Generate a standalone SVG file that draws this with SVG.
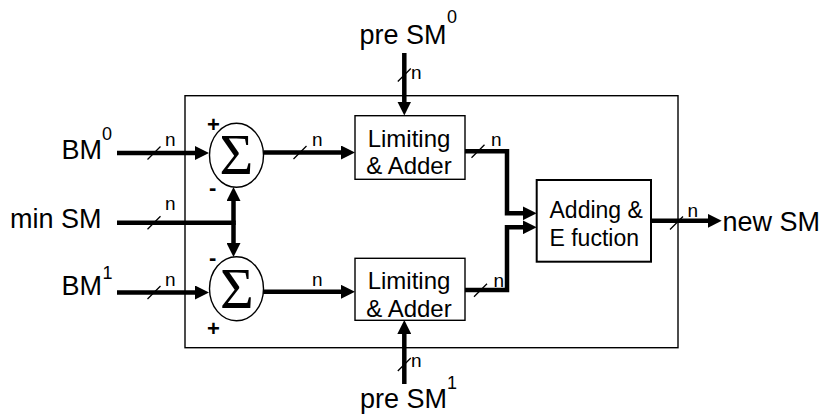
<svg xmlns="http://www.w3.org/2000/svg" width="826" height="416" viewBox="0 0 826 416">
<style>
  .lbl{font-family:"Liberation Sans",Arial,sans-serif;fill:#000}
  .big{font-size:27px}
  .sup{font-size:18px}
  .box{font-size:24px}
  .n{font-size:19px}
  .sign{font-size:22px;font-weight:bold}
  .sigma{font-family:"Liberation Serif","Times New Roman",serif;font-size:58px;fill:#000}
  .bus{fill:none;stroke:#000;stroke-width:4.5;stroke-linejoin:miter}
  .arr{marker-end:url(#ah)}
  .tick{stroke:#000;stroke-width:1.3;fill:none}
  .shape{fill:#fff;stroke:#000;stroke-width:1.4}
</style>
<defs>
  <marker id="ah" markerUnits="userSpaceOnUse" markerWidth="14" markerHeight="14" refX="6" refY="7" orient="auto">
    <path d="M0,0 L14,7 L0,14 z" fill="#000"/>
  </marker>
</defs>
<rect width="826" height="416" fill="#fff"/>

<g id="frame">
  <rect x="185" y="95.7" width="493" height="252" fill="none" stroke="#000" stroke-width="1.4"/>
</g>

<g id="connectors">
  <path class="bus arr" d="M117,153 H201"/>
  <path class="bus" d="M117,222.7 H235.7"/>
  <path class="bus arr" d="M233.5,222.7 V195"/>
  <path class="bus arr" d="M233.5,222.7 V249"/>
  <path class="bus arr" d="M117,292.5 H201"/>
  <path class="bus arr" d="M263.5,152.5 H347"/>
  <path class="bus arr" d="M263,291.8 H347"/>
  <path class="bus arr" d="M404.3,53 V107.5"/>
  <path class="bus arr" d="M404.3,384 V328"/>
  <path class="bus arr" d="M465,151.3 H507 V213.3 H528.7"/>
  <path class="bus arr" d="M465,290 H507 V227.3 H528.7"/>
  <path class="bus arr" d="M651,220.8 H713.7"/>
  <path class="tick" d="M147.5,159.5 L160.5,146.5 M147.5,229.2 L160.5,216.2 M147.5,299 L160.5,286 M293.5,159 L306.5,146 M471.5,157.8 L484.5,144.8 M474,296.7 L487,283.7 M670,229.5 L683,216.5 M397.8,81.5 L410.8,68.5 M397.8,371 L410.8,358"/>
  <text class="lbl n" x="165" y="146">n</text>
  <text class="lbl n" x="165" y="210">n</text>
  <text class="lbl n" x="165" y="286">n</text>
  <text class="lbl n" x="312" y="146">n</text>
  <text class="lbl n" x="312" y="285.5">n</text>
  <text class="lbl n" x="491" y="145.5">n</text>
  <text class="lbl n" x="493.5" y="287">n</text>
  <text class="lbl n" x="687.5" y="216.5">n</text>
  <text class="lbl n" x="411" y="79">n</text>
  <text class="lbl n" x="411" y="366.5">n</text>
</g>

<g id="label-bm0">
  <text class="lbl big" x="61.5" y="159">BM</text>
  <text class="lbl sup" x="102" y="140">0</text>
</g>
<g id="label-minsm">
  <text class="lbl big" x="10" y="227.5">min SM</text>
</g>
<g id="label-bm1">
  <text class="lbl big" x="61.5" y="295">BM</text>
  <text class="lbl sup" x="102.5" y="279">1</text>
</g>
<g id="label-presm0">
  <text class="lbl big" x="359.5" y="43.5">pre SM</text>
  <text class="lbl sup" x="447" y="22.7">0</text>
</g>
<g id="label-presm1">
  <text class="lbl big" x="360" y="408.3">pre SM</text>
  <text class="lbl sup" x="447" y="388.5">1</text>
</g>
<g id="label-newsm">
  <text class="lbl big" x="722.5" y="230.7">new SM</text>
</g>

<g id="sum0">
  <ellipse class="shape" cx="236.5" cy="155.3" rx="27" ry="32"/>
  <text class="sigma" x="236.5" y="173.5" text-anchor="middle">Σ</text>
  <text class="lbl sign" x="213.5" y="132" text-anchor="middle">+</text>
  <text class="lbl sign" x="212.7" y="195" text-anchor="middle">-</text>
</g>
<g id="sum1">
  <ellipse class="shape" cx="236.5" cy="288.7" rx="27" ry="32"/>
  <text class="sigma" x="237" y="307.5" text-anchor="middle">Σ</text>
  <text class="lbl sign" x="212.7" y="265" text-anchor="middle">-</text>
  <text class="lbl sign" x="213.5" y="336" text-anchor="middle">+</text>
</g>
<g id="limit0">
  <rect class="shape" x="355" y="115.7" width="110" height="63.6"/>
  <text class="lbl box" x="409" y="146.5" text-anchor="middle">Limiting</text>
  <text class="lbl box" x="409" y="174" text-anchor="middle">&amp; Adder</text>
</g>
<g id="limit1">
  <rect class="shape" x="355" y="258.3" width="110" height="62"/>
  <text class="lbl box" x="409" y="289.3" text-anchor="middle">Limiting</text>
  <text class="lbl box" x="409" y="316.8" text-anchor="middle">&amp; Adder</text>
</g>
<g id="adding">
  <rect x="536.7" y="180" width="114.3" height="81.7" fill="#fff" stroke="#000" stroke-width="2"/>
  <text class="lbl" x="549.5" y="218.3" font-size="23">Adding &amp;</text>
  <text class="lbl" x="549.5" y="246" font-size="23">E fuction</text>
</g>
</svg>
